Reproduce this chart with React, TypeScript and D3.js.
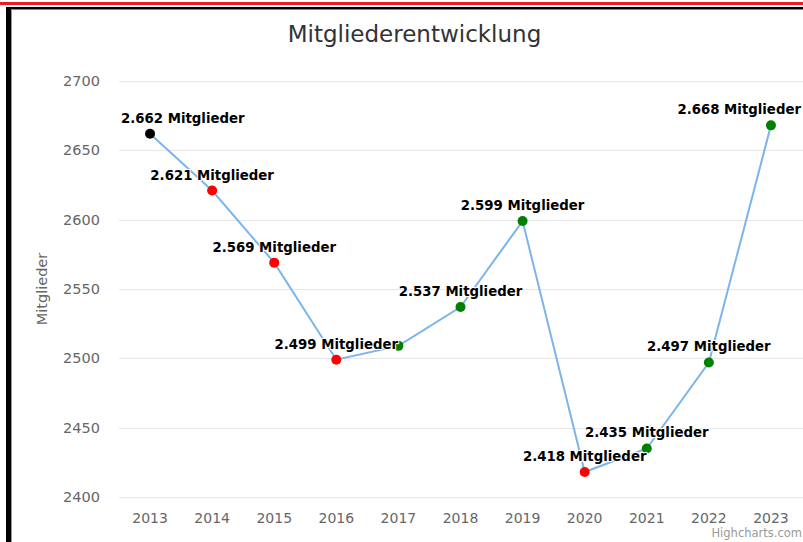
import { useEffect, useRef } from "react";
import * as d3 from "d3";

// Mitgliederzahlen pro Jahr
const years = ["2013", "2014", "2015", "2016", "2017", "2018", "2019", "2020", "2021", "2022", "2023"];
const members = [2662, 2621, 2569, 2499, 2509, 2537, 2599, 2418, 2435, 2497, 2668];
const markerColors = ["#000000", "#ff0000", "#ff0000", "#ff0000", "#008000", "#008000", "#008000", "#ff0000", "#008000", "#008000", "#008000"];
// 2017 label is hidden in the original (overlaps the 2016 label)
const showLabel = [true, true, true, true, false, true, true, true, true, true, true];
const yTicks = [2400, 2450, 2500, 2550, 2600, 2650, 2700];

const W = 803;
const H = 542;
const plot = { left: 119, right: 802, top: 81, bottom: 497 };
const FONT = "'DejaVu Sans', Verdana, sans-serif";

export default function App() {
  const ref = useRef<SVGSVGElement | null>(null);

  useEffect(() => {
    if (!ref.current) return;
    const svg = d3.select(ref.current);
    svg.selectAll("*").remove();

    svg.append("rect").attr("width", W).attr("height", H).attr("fill", "#ffffff");

    // frame bits from the screenshot
    svg.append("rect").attr("x", 0).attr("y", 2).attr("width", W).attr("height", 3).attr("fill", "#ee1c25");
    svg.append("rect").attr("x", 6).attr("y", 7).attr("width", W - 6).attr("height", 2.5).attr("fill", "#000");
    svg.append("rect").attr("x", 6).attr("y", 7).attr("width", 5).attr("height", H - 7).attr("fill", "#000");
    svg.append("rect").attr("x", 11).attr("y", 9).attr("width", 1).attr("height", H - 9).attr("fill", "#999");

    const x = d3.scaleBand().domain(years).range([plot.left, plot.right]).padding(0);
    const cx = (d: string) => (x(d) as number) + x.bandwidth() / 2;
    const y = d3.scaleLinear().domain([2400, 2700]).range([plot.bottom, plot.top]);

    // title
    svg.append("text")
      .attr("x", 414.5).attr("y", 42)
      .attr("text-anchor", "middle")
      .style("font-family", FONT).style("font-size", "23px").style("fill", "#333333")
      .text("Mitgliederentwicklung");

    // grid
    svg.append("g").selectAll("line").data(yTicks).enter().append("line")
      .attr("x1", plot.left).attr("x2", W)
      .attr("y1", (d) => Math.round(y(d)) + 0.5).attr("y2", (d) => Math.round(y(d)) + 0.5)
      .attr("stroke", "#e6e6e6").attr("stroke-width", 1);

    // y labels
    svg.append("g").selectAll("text").data(yTicks).enter().append("text")
      .attr("x", 100).attr("y", (d) => y(d) + 5)
      .attr("text-anchor", "end")
      .style("font-family", FONT).style("font-size", "14.5px").style("fill", "#666666")
      .text((d) => d);

    // y axis title
    svg.append("text")
      .attr("transform", "translate(47,289) rotate(-90)")
      .attr("text-anchor", "middle")
      .style("font-family", FONT).style("font-size", "14.5px").style("fill", "#666666")
      .text("Mitglieder");

    // x labels
    svg.append("g").selectAll("text").data(years).enter().append("text")
      .attr("x", (d) => cx(d)).attr("y", 523)
      .attr("text-anchor", "middle")
      .style("font-family", FONT).style("font-size", "14px").style("fill", "#666666")
      .text((d) => d);

    const pts = years.map((yr, i) => ({ yr, v: members[i], c: markerColors[i], show: showLabel[i] }));

    // line
    const line = d3.line<{ yr: string; v: number }>().x((d) => cx(d.yr)).y((d) => y(d.v));
    svg.append("path").datum(pts)
      .attr("d", line)
      .attr("fill", "none").attr("stroke", "#7cb5ec").attr("stroke-width", 2);

    // markers
    svg.append("g").selectAll("circle").data(pts).enter().append("circle")
      .attr("cx", (d) => cx(d.yr)).attr("cy", (d) => y(d.v)).attr("r", 5)
      .attr("fill", (d) => d.c);

    // data labels, kept inside the plot like highcharts does
    const fmt = (v: number) => d3.format(",")(v).replace(",", ".") + " Mitglieder";
    const labels = svg.append("g").selectAll("text").data(pts.filter((d) => d.show)).enter().append("text")
      .attr("y", (d) => y(d.v) - 11)
      .attr("text-anchor", "start")
      .style("font-family", FONT).style("font-size", "13.3px").style("font-weight", "bold")
      .style("fill", "#000000")
      .style("stroke", "#ffffff").style("stroke-width", "2px").style("paint-order", "stroke")
      .style("stroke-linejoin", "round")
      .text((d) => fmt(d.v));
    labels.attr("x", function (d) {
      const w = (this as SVGTextElement).getComputedTextLength();
      let left = cx(d.yr) - w / 2;
      if (left < plot.left + 2) left = plot.left + 2;
      if (left + w > W - 2) left = W - 2 - w;
      return left;
    });

    // credits
    svg.append("text")
      .attr("x", W - 1).attr("y", 537)
      .attr("text-anchor", "end")
      .style("font-family", FONT).style("font-size", "11.5px").style("fill", "#999999")
      .text("Highcharts.com");
  }, []);

  return (
    <svg
      ref={ref}
      width={W}
      height={H}
      style={{ position: "absolute", left: 0, top: 0, display: "block" }}
    />
  );
}
